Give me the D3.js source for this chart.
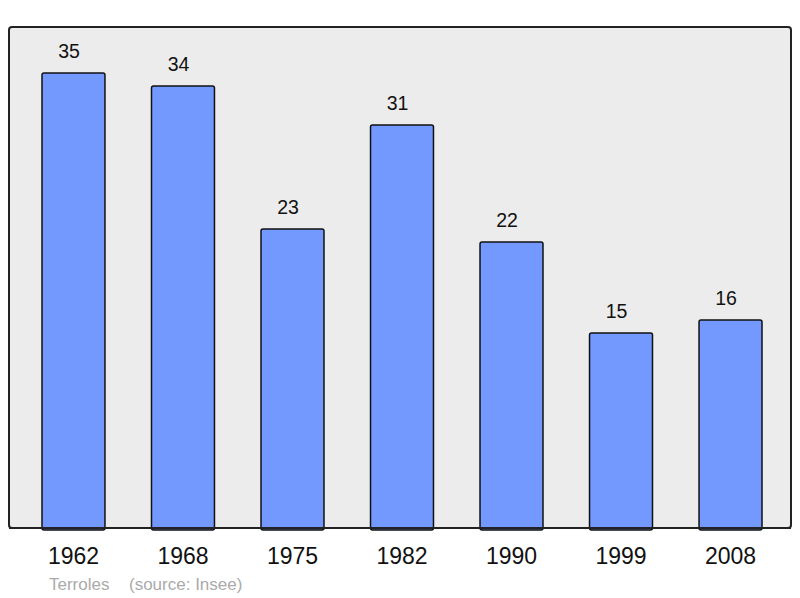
<!DOCTYPE html>
<html lang="fr">
<head>
<meta charset="utf-8">
<title>Terroles</title>
<script src="https://d3js.org/d3.v7.min.js"></script>
<style>
  body { margin: 0; background: #fff; }
  text { font-family: "Liberation Sans", Arial, sans-serif; }
</style>
</head>
<body>
<div id="chart"></div>
<script>
var years = ["1962", "1968", "1975", "1982", "1990", "1999", "2008"];
var population = [35, 34, 23, 31, 22, 15, 16];
var commune = "Terroles";
var source = "(source: Insee)";

var w = 800, h = 598;
var svg = d3.select("#chart").append("svg")
  .attr("width", w)
  .attr("height", h);

// plot frame
svg.append("rect")
  .attr("x", 9).attr("y", 27)
  .attr("width", 782).attr("height", 501)
  .attr("rx", 3)
  .attr("fill", "#ececec")
  .attr("stroke", "#222")
  .attr("stroke-width", 2);

var x = d3.scaleBand()
  .domain(years)
  .range([42, 762])
  .paddingInner(0.425)
  .paddingOuter(0);

var y = d3.scaleLinear()
  .domain([0, 35])
  .range([528, 73]);

var data = years.map(function(d, i) { return {year: d, value: population[i]}; });

svg.selectAll(".bar")
  .data(data)
  .enter().append("rect")
  .attr("class", "bar")
  .attr("x", function(d) { return x(d.year); })
  .attr("y", function(d) { return y(d.value); })
  .attr("width", x.bandwidth())
  .attr("height", function(d) { return y(0) - y(d.value) + 2; })
  .attr("rx", 2)
  .attr("fill", "#7399ff")
  .attr("stroke", "#111")
  .attr("stroke-width", 1.5);

// redraw frame bottom line over the bars
svg.append("line")
  .attr("x1", 9).attr("x2", 791)
  .attr("y1", 528).attr("y2", 528)
  .attr("stroke", "#222")
  .attr("stroke-width", 2);

// value labels sit a little left of the bar centre, as in the original
svg.selectAll(".val")
  .data(data)
  .enter().append("text")
  .attr("class", "val")
  .attr("x", function(d) { return x(d.year) + x.bandwidth() / 2 - 4.5; })
  .attr("y", function(d) { return y(d.value) - 15; })
  .attr("text-anchor", "middle")
  .attr("font-size", 19.5)
  .attr("fill", "#111")
  .text(function(d) { return d.value; });

// year labels
var xAxis = d3.axisBottom(x).tickSize(0).tickPadding(0);
var gx = svg.append("g")
  .attr("transform", "translate(0,548)")
  .call(xAxis);
gx.select(".domain").remove();
gx.selectAll("text")
  .attr("dy", "0.71em")
  .attr("font-size", 23)
  .attr("font-family", "Liberation Sans, Arial, sans-serif")
  .attr("fill", "#111");

svg.append("text")
  .attr("x", 49).attr("y", 590)
  .attr("font-size", 17)
  .attr("fill", "#aaa")
  .text(commune);

svg.append("text")
  .attr("x", 129).attr("y", 590)
  .attr("font-size", 17)
  .attr("fill", "#aaa")
  .text(source);
</script>
</body>
</html>
